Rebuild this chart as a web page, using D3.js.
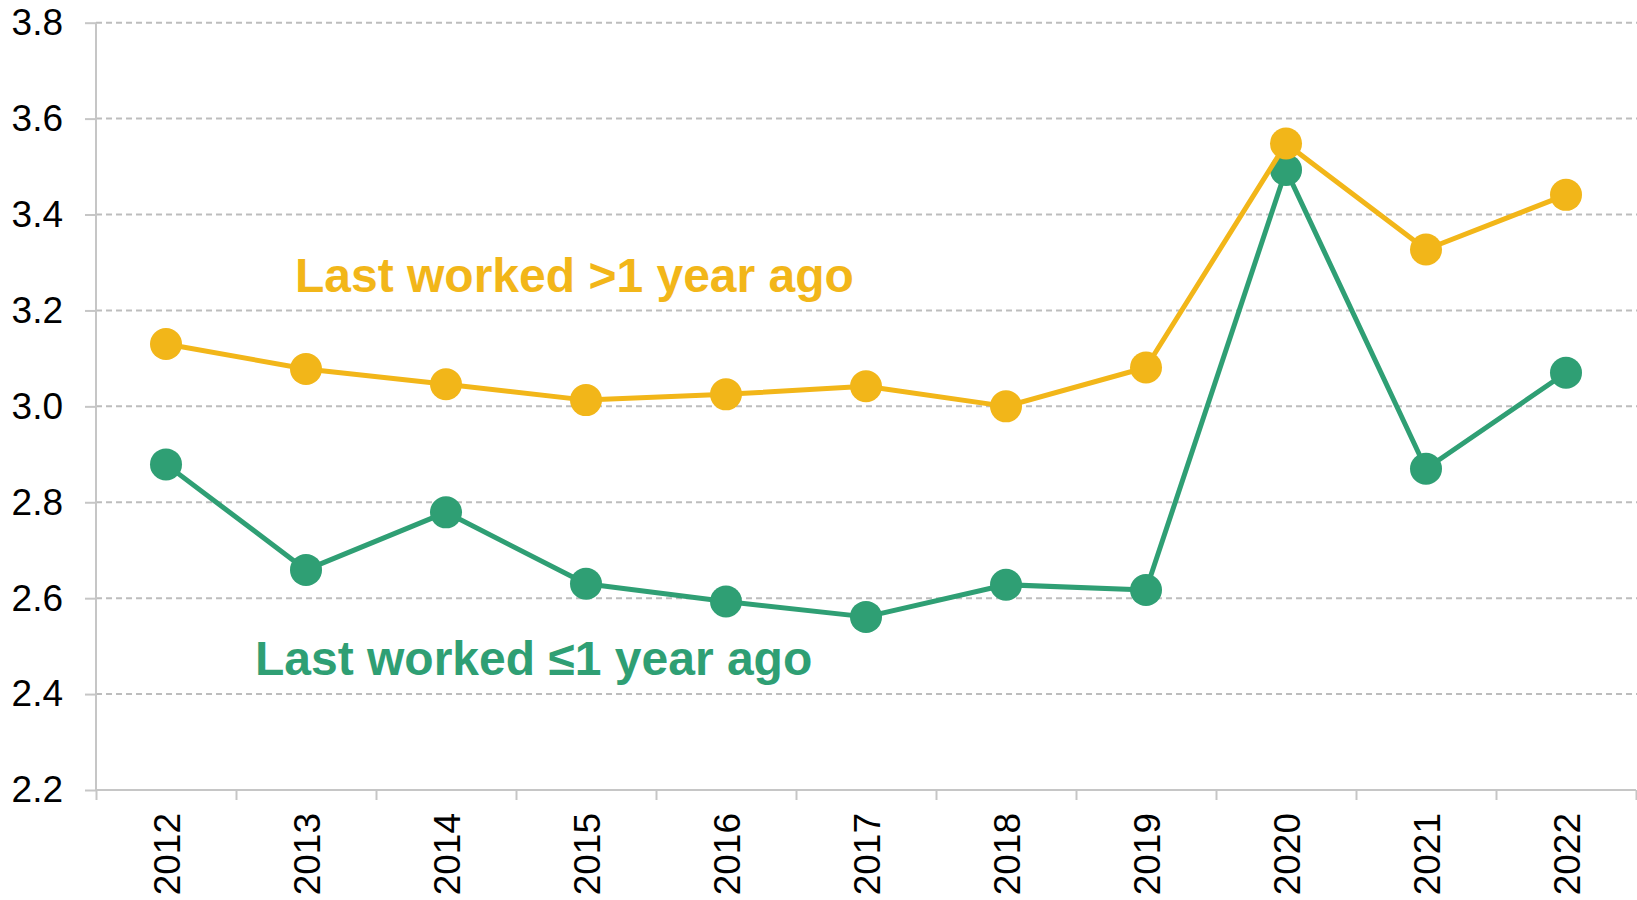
<!DOCTYPE html>
<html>
<head>
<meta charset="utf-8">
<script src="https://cdn.jsdelivr.net/npm/d3@7"></script>
<style>
  body { margin: 0; background: #fff; }
  svg { display: block; font-family: "Liberation Sans", Arial, sans-serif; }
  .axis path, .axis line { stroke: #c6c6c6; stroke-width: 2; }
  .axis text { fill: #000; font-size: 37px; }
  .grid line { stroke: #bdbdbd; stroke-width: 2; stroke-dasharray: 6 4; }
</style>
</head>
<body>
<svg id="chart" width="1637" height="900"></svg>
<script>
const years = ['2012', '2013', '2014', '2015', '2016', '2017', '2018', '2019', '2020', '2021', '2022'];
const moreThanYear = [3.13, 3.078, 3.046, 3.013, 3.025, 3.042, 3.0, 3.081, 3.548, 3.327, 3.441];
const withinYear = [2.879, 2.659, 2.779, 2.630, 2.593, 2.561, 2.628, 2.617, 3.493, 2.870, 3.07];
const yTicks = [2.2, 2.4, 2.6, 2.8, 3.0, 3.2, 3.4, 3.6, 3.8];

// green drawn first so yellow sits on top
const series = [
  { name: 'Last worked \u22641 year ago', values: withinYear, color: '#2f9f74', label: [258, 675] },
  { name: 'Last worked >1 year ago', values: moreThanYear, color: '#f2b619', label: [298, 292] }
];

const width = 1637, height = 900;
const margin = { top: 22.7, left: 96, right: 1, bottom: 110 };
const svg = d3.select('#chart');

const x = d3.scaleBand().domain(years).range([margin.left, width - margin.right]);
const xEdge = d3.scaleLinear().domain([0, years.length]).range([margin.left, width - margin.right]);
const y = d3.scaleLinear().domain([2.2, 3.8]).range([height - margin.bottom, margin.top]);

// dashed horizontal grid
svg.append('g')
  .attr('class', 'grid')
  .selectAll('line')
  .data(yTicks.slice(1))
  .join('line')
  .attr('x1', margin.left)
  .attr('x2', width)
  .attr('y1', d => y(d))
  .attr('y2', d => y(d));

// y axis
const yAxis = svg.append('g')
  .attr('class', 'axis')
  .attr('transform', `translate(${margin.left},0)`)
  .call(d3.axisLeft(y).tickValues(yTicks).tickSize(11).tickPadding(22).tickFormat(d3.format('.1f')));
yAxis.select('.domain').attr('d', `M0,${y(2.2)}V${y(3.8)}`);

// x axis: boundary ticks
svg.append('g')
  .attr('class', 'axis')
  .attr('transform', `translate(0,${y(2.2)})`)
  .call(d3.axisBottom(xEdge).ticks(years.length).tickSize(10).tickFormat(''))
  .select('.domain').attr('d', `M${margin.left},0H${width - margin.right}`);

// x labels, rotated
svg.append('g')
  .attr('class', 'axis')
  .selectAll('text')
  .data(years)
  .join('text')
  .attr('transform', d => `translate(${x(d) + x.bandwidth() / 2 + 14},${y(2.2) + 23}) rotate(-90)`)
  .attr('text-anchor', 'end')
  .text(d => d);

// lines and markers
const line = d3.line()
  .x((d, i) => x(years[i]) + x.bandwidth() / 2)
  .y(d => y(d));

series.forEach(s => {
  const g = svg.append('g');
  g.append('path')
    .attr('d', line(s.values))
    .attr('fill', 'none')
    .attr('stroke', s.color)
    .attr('stroke-width', 5)
    .attr('stroke-linejoin', 'round');
  g.selectAll('circle')
    .data(s.values)
    .join('circle')
    .attr('cx', (d, i) => x(years[i]) + x.bandwidth() / 2)
    .attr('cy', d => y(d))
    .attr('r', 16)
    .attr('fill', s.color);
});

// series labels
series.forEach(s => {
  svg.append('text')
    .attr('x', s.label[0] - 3)
    .attr('y', s.label[1])
    .attr('fill', s.color)
    .attr('font-size', 48)
    .attr('font-weight', 'bold')
    .text(s.name);
});
</script>
</body>
</html>
